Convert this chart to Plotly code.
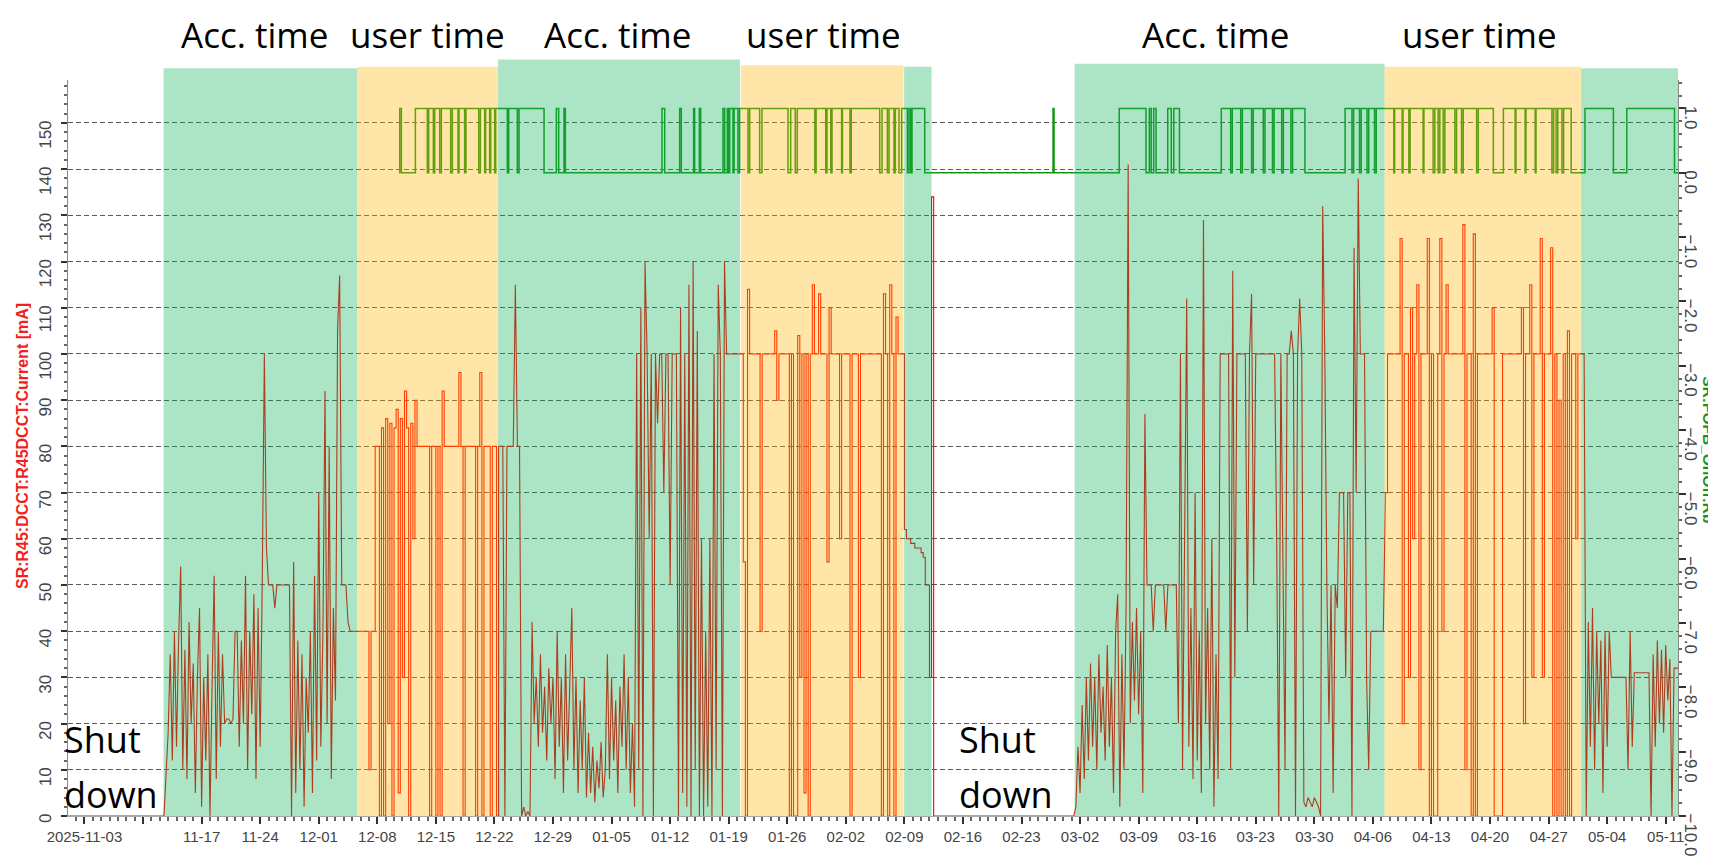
import pandas as pd
import plotly.graph_objects as go

BASE = pd.Timestamp("2025-11-03")
STEP = 0.25  # days between archived samples in the sampled segments

# ---------------- beam current SR:R45:DCCT:R45DCCT:Current [mA] ----------------
shut1_days = [-2.0, 9.25]
shut1_cur = [0, 0]

acc1_start = 9.5
acc1_cur = [0, 8, 18, 35, 12, 40, 15, 38, 54, 10,
            36, 8, 42, 20, 33, 5, 30, 45, 2, 30,
            12, 35, 0, 28, 52, 8, 40, 15, 35, 20,
            21, 21, 20, 21, 40, 40, 15, 38, 20, 52,
            10, 40, 22, 48, 8, 45, 15, 51, 100, 58,
            50, 50, 50, 45, 50, 50, 50, 50, 50, 50,
            50, 0, 55, 5, 38, 10, 35, 2, 30, 18,
            40, 5, 52, 12, 70, 15, 40, 92, 20, 80,
            8, 45, 25, 105, 117, 50, 50, 50, 42, 40,
            40, 40, 40]

user1_start = 32.75
user1_cur = [40, 40, 40, 40, 40, 10, 40, 40, 80, 80,
             0, 84, 0, 86, 20, 85, 0, 84, 88, 5,
             86, 30, 92, 84, 0, 85, 60, 90, 80, 80,
             80, 80, 80, 80, 0, 80, 80, 0, 80, 0,
             92, 80, 80, 80, 80, 80, 80, 80, 96, 80,
             0, 80, 80, 80, 80, 80, 0, 80, 96, 0,
             80, 80, 80, 0, 80, 80, 0]

acc2_start = 49.5
acc2_cur = [80, 80, 80, 0, 80, 80, 80, 80, 115, 80,
            80, 0, 2, 0, 1, 0, 42, 20, 30, 15,
            35, 18, 28, 12, 32, 20, 30, 8, 40, 15,
            30, 5, 35, 12, 28, 45, 10, 30, 5, 25,
            10, 30, 4, 18, 5, 15, 3, 12, 6, 16,
            4, 10, 35, 8, 30, 12, 25, 5, 28, 15,
            35, 10, 30, 5, 20, 2, 100, 10, 110, 0,
            120, 100, 60, 100, 0, 100, 85, 100, 100, 70,
            100, 100, 50, 100, 100, 100, 0, 110, 5, 100,
            2, 115, 0, 120, 10, 105, 0, 60, 0, 40,
            2, 60, 0, 100, 10, 115, 100, 0, 120, 100,
            100, 100, 100, 100, 100, 100]

user2_start = 78.5
user2_cur = [100, 55, 0, 114, 100, 100, 100, 100, 100, 40,
             100, 100, 100, 100, 100, 100, 105, 90, 100, 100,
             100, 100, 100, 0, 100, 0, 0, 104, 30, 100,
             5, 100, 0, 100, 115, 100, 100, 113, 100, 100,
             100, 55, 110, 100, 100, 100, 100, 60, 100, 100,
             100, 100, 0, 100, 100, 100, 30, 100, 100, 100,
             100, 100, 100, 100, 100, 100, 100, 0, 113, 100,
             0, 115, 100, 0, 108, 100, 100, 100]

acc3_start = 98.0
acc3_cur = [62, 60, 60, 59, 59, 58, 58, 58, 57, 56, 50, 50, 30, 134, 0]

shut2_days = [101.75, 118.0]
shut2_cur = [0, 0]

acc4_start = 118.25
acc4_cur = [0, 2, 15, 5, 24, 8, 30, 12, 33, 15,
            30, 10, 35, 18, 28, 12, 37, 15, 30, 5,
            40, 48, 2, 35, 10, 45, 141, 20, 42, 25,
            45, 22, 40, 5, 87, 50, 50, 50, 40, 50,
            50, 50, 50, 50, 40, 50, 50, 50, 50, 50,
            20, 100, 10, 60, 112, 15, 45, 8, 70, 12,
            40, 5, 129, 20, 45, 10, 60, 2, 35, 8,
            100, 100, 100, 100, 100, 10, 118, 30, 100, 100,
            100, 100, 100, 40, 100, 113, 50, 100, 100, 100,
            100, 100, 100, 100, 100, 100, 100, 60, 0, 100,
            60, 10, 100, 100, 105, 100, 0, 100, 112, 100,
            3, 2, 4, 3, 2, 4, 3, 2, 0, 132,
            100, 50, 20, 50, 5, 50, 45, 70, 70, 70,
            30, 70, 70, 0, 123, 70, 138, 100, 100, 100,
            30, 10, 40, 40, 40, 40, 40, 40, 40]

user3_start = 155.5
user3_cur = [70, 100, 100, 100, 100, 100, 100, 125, 20, 100,
             100, 30, 110, 60, 100, 115, 10, 100, 100, 100,
             125, 0, 100, 0, 0, 100, 125, 40, 100, 115,
             100, 100, 100, 100, 100, 100, 100, 128, 10, 100,
             100, 0, 126, 0, 100, 100, 100, 100, 100, 100,
             100, 110, 0, 0, 0, 0, 100, 100, 100, 100,
             100, 100, 100, 100, 100, 110, 20, 100, 100, 115,
             30, 100, 100, 100, 125, 30, 100, 100, 100, 123,
             0, 100, 0, 90, 0, 100, 0, 105, 0, 100,
             100, 60, 100, 100]

acc5_start = 179.0
acc5_cur = [100, 100, 0, 42, 15, 45, 10, 40, 20, 38,
            5, 40, 15, 40, 30, 30, 30, 30, 30, 30,
            30, 30, 10, 40, 15, 31, 31, 31, 31, 31,
            31, 31, 31, 0, 35, 15, 38, 20, 36, 18,
            37, 25, 34, 0, 32, 32, 32]

# ---------------- SR:FOFB_OnOff:Rb (0/1), on-intervals in days since 2025-11-03 ----------------
fofb_first = 37.6
fofb_last = 190.6
fofb_on_start = [37.68, 39.55, 41.14, 41.86, 42.66, 43.97, 44.77, 45.60, 47.32, 47.95,
                 48.55, 49.15, 50.70, 51.94, 56.40, 57.32, 69.03, 71.14, 72.81, 73.49,
                 76.32, 76.84, 77.12, 77.64, 78.31, 79.51, 80.98, 84.41, 85.20, 87.45,
                 88.75, 89.35, 90.60, 91.65, 95.33, 96.17, 96.92, 97.68, 98.56, 98.91,
                 115.77, 123.68, 127.28, 127.80, 129.48, 130.20, 135.88, 137.20, 138.40, 139.70,
                 141.10, 142.20, 143.30, 144.40, 150.68, 151.70, 152.60, 153.50, 154.40, 156.60,
                 157.60, 158.45, 160.10, 161.40, 162.00, 162.60, 164.00, 164.80, 166.60, 169.60,
                 171.10, 172.30, 173.50, 175.60, 176.10, 176.80, 179.35, 184.35]
fofb_on_end = [37.88, 40.98, 41.70, 42.46, 43.77, 44.65, 45.44, 47.12, 47.84, 48.43,
               49.03, 50.54, 51.74, 54.93, 56.68, 57.48, 69.35, 71.34, 72.93, 73.65,
               76.52, 77.00, 77.52, 78.11, 79.31, 80.70, 84.09, 84.96, 87.30, 88.60,
               89.20, 90.50, 91.50, 95.05, 95.97, 96.76, 97.36, 98.36, 98.76, 100.43,
               115.89, 126.88, 127.50, 128.08, 129.90, 130.88, 137.00, 138.20, 139.50, 140.90,
               142.00, 143.10, 144.20, 145.88, 151.50, 152.40, 153.30, 154.20, 156.50, 157.50,
               158.30, 160.00, 161.20, 161.80, 162.40, 163.80, 164.60, 166.40, 168.40, 171.00,
               172.20, 173.40, 175.40, 175.90, 176.60, 177.70, 182.75, 190.05]

# ---------------- operation periods (days since 2025-11-03) ----------------
period_kind = ["Acc. time", "user time", "Acc. time", "user time", "Acc. time",
               "Acc. time", "user time", "Acc. time"]
period_start = [9.45, 32.58, 49.43, 78.45, 97.97, 118.35, 155.40, 178.90]
period_end = [32.58, 49.43, 78.35, 97.90, 101.25, 155.40, 178.90, 190.60]

# labelled periods (text shown above the chart)
label_text = ["Acc. time", "user time", "Acc. time", "user time", "Acc. time", "user time"]
shutdown_text = ["Shut", "down"]

# ---------------- assemble series ----------------
def to_time(days):
    return [BASE + pd.Timedelta(days=float(d)) for d in days]


def sampled(start, values):
    return [start + STEP * i for i in range(len(values))]


# (days, values, drawn as steps?) for each archived segment
segments = [(shut1_days, shut1_cur, True),
            (sampled(acc1_start, acc1_cur), acc1_cur, False),
            (sampled(user1_start, user1_cur), user1_cur, True),
            (sampled(acc2_start, acc2_cur), acc2_cur, False),
            (sampled(user2_start, user2_cur), user2_cur, True),
            (sampled(acc3_start, acc3_cur), acc3_cur, True),
            (shut2_days, shut2_cur, True),
            (sampled(acc4_start, acc4_cur), acc4_cur, False),
            (sampled(user3_start, user3_cur), user3_cur, True),
            (sampled(acc5_start, acc5_cur), acc5_cur, False)]

fig = go.Figure()
for i, (d, v, step) in enumerate(segments):
    d = list(d)
    v = list(v)
    if i + 1 < len(segments):  # join to the first sample of the next segment
        d.append(segments[i + 1][0][0])
        v.append(segments[i + 1][1][0])
    fig.add_trace(go.Scatter(x=to_time(d), y=v, mode="lines",
                             line=dict(color="rgb(255,0,0)", width=1.1,
                                       shape="hv" if step else "linear"),
                             name="SR:R45:DCCT:R45DCCT:Current", yaxis="y"))

fofb_days, fofb_vals = [fofb_first], [0]
for s, e in zip(fofb_on_start, fofb_on_end):
    fofb_days += [s, e]
    fofb_vals += [1, 0]
fofb_days.append(fofb_last)
fofb_vals.append(0)

fig.add_trace(go.Scatter(x=to_time(fofb_days), y=fofb_vals, mode="lines",
                         line=dict(color="rgb(20,150,20)", width=1.5, shape="hv"),
                         name="SR:FOFB_OnOff:Rb", yaxis="y2"))

# semi-transparent period overlays (drawn above the traces)
shade_color = {"Acc. time": "rgba(11,178,87,0.34)", "user time": "rgba(255,180,0,0.34)"}
shade_top = [1.016, 1.018, 1.028, 1.02, 1.018, 1.022, 1.018, 1.016]
for kind, s, e, top in zip(period_kind, period_start, period_end, shade_top):
    fig.add_shape(type="rect", xref="x", yref="paper",
                  x0=to_time([s])[0], x1=to_time([e])[0], y0=0, y1=top,
                  fillcolor=shade_color[kind], line=dict(width=0), layer="above")

# period labels
label_x = [0.116, 0.223, 0.3415, 0.469, 0.713, 0.877]
for txt, x in zip(label_text, label_x):
    fig.add_annotation(text=txt, xref="paper", yref="paper", x=x, y=1.062,
                       showarrow=False, xanchor="center", yanchor="middle",
                       font=dict(family="Open Sans", size=35, color="black"))
for x0 in [0.0, 0.556]:
    for txt, y in zip(shutdown_text, [0.104, 0.029]):
        fig.add_annotation(text=txt, xref="paper", yref="paper", x=x0 - 0.004, y=y,
                           showarrow=False, xanchor="left", yanchor="middle",
                           font=dict(family="Open Sans", size=36, color="black"))

# axis titles
fig.add_annotation(text="<b>SR:R45:DCCT:R45DCCT:Current [mA]</b>", xref="paper", yref="paper",
                   x=-0.0278, y=0.503, textangle=-90, showarrow=False,
                   xanchor="center", yanchor="middle",
                   font=dict(family="Liberation Sans", size=16, color="rgb(245,30,30)"))
fig.add_annotation(text="<b>SR:FOFB_OnOff:Rb</b>", xref="paper", yref="paper",
                   x=1.0192, y=0.497, textangle=90, showarrow=False,
                   xanchor="center", yanchor="middle",
                   font=dict(family="Liberation Sans", size=15.5, color="rgb(20,150,20)"))

# x ticks: weekly
tick_days = list(range(0, 190, 7))
tick_times = to_time(tick_days)
tick_text = []
for i, t in enumerate(tick_times):
    if i == 0:
        tick_text.append(t.strftime("%Y-%m-%d"))
    elif i == 1:
        tick_text.append("")
    else:
        tick_text.append(t.strftime("%m-%d"))

x_range = to_time([-1.97, 190.47])

fig.update_layout(
    width=1716, height=860,
    margin=dict(l=60, r=46, t=72, b=27),
    paper_bgcolor="white", plot_bgcolor="white",
    showlegend=False,
    font=dict(family="Liberation Sans", color="#444"),
    xaxis=dict(type="date", range=x_range, tickmode="array", tickvals=tick_times, ticktext=tick_text,
               ticks="outside", ticklen=7, tickwidth=1.5, tickcolor="#333",
               tickfont=dict(size=15, color="#444"), showgrid=False, zeroline=False,
               showline=True, linecolor="#aaa", linewidth=1,
               minor=dict(tickmode="linear", tick0=BASE, dtick=86400000, ticks="outside",
                          ticklen=4, tickcolor="#666")),
    yaxis=dict(range=[0, 159.3], dtick=10, tick0=0, tickangle=-89.9, ticklabelstandoff=15,
               ticks="outside", ticklen=6, tickwidth=1.5, tickcolor="#333",
               tickfont=dict(size=17, color="#444"),
               showgrid=True, gridcolor="rgba(60,60,60,0.85)", gridwidth=1, griddash="5px,3px",
               zeroline=False, showline=True, linecolor="#888", linewidth=1,
               minor=dict(dtick=2, ticks="outside", ticklen=3, tickcolor="#666", showgrid=False)),
    yaxis2=dict(range=[-10, 1.442], dtick=1, tick0=0, tickformat=".1f", tickangle=89.9,
                ticklabelstandoff=4,
                overlaying="y", side="right", anchor="x",
                ticks="outside", ticklen=7, tickwidth=1.5, tickcolor="#333",
                tickfont=dict(size=17, color="#444"),
                showgrid=False, zeroline=False, showline=True, linecolor="#888", linewidth=1,
                minor=dict(dtick=0.2, ticks="outside", ticklen=3, tickcolor="#666")),
)

fig.write_html("out.html")
